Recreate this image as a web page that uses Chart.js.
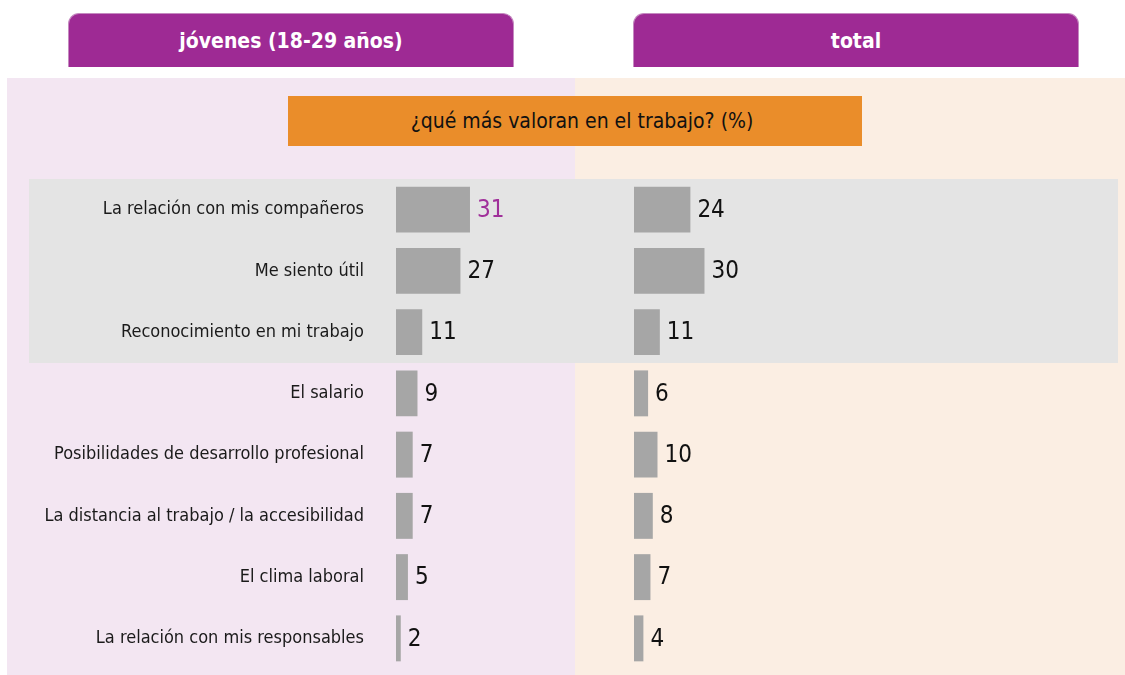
<!DOCTYPE html>
<html>
<head>
<meta charset="utf-8">
<script src="https://cdn.jsdelivr.net/npm/chart.js@4"></script>
<style>
  html, body { margin:0; padding:0; background:#ffffff; width:1125px; height:675px; overflow:hidden; }
  body { position:relative; font-family:"DejaVu Sans Condensed","DejaVu Sans",sans-serif; }
  .abs { position:absolute; }
  .tab { background:#9E2A94; border:1px solid #C58AC0; border-bottom:none; border-radius:11px 11px 0 0;
         color:#ffffff; font-weight:bold; font-size:21px; text-align:center; line-height:54px; box-sizing:border-box; }
  #title { background:#EA8D2A; color:#111; font-size:21px; text-align:center; line-height:50px; box-sizing:border-box; padding-left:14px; }
</style>
</head>
<body>
<div class="abs tab" style="left:68px; top:13px; width:446px; height:54px;">jóvenes (18-29 años)</div>
<div class="abs tab" style="left:633px; top:13px; width:446px; height:54px;">total</div>
<div class="abs" style="left:7px; top:78px; width:568px; height:597px; background:#F3E6F2;"></div>
<div class="abs" style="left:575px; top:78px; width:550px; height:597px; background:#FBEEE3;"></div>
<div class="abs" id="title" style="left:288px; top:96px; width:574px; height:50px;">¿qué más valoran en el trabajo? (%)</div>
<div class="abs" style="left:29px; top:179px; width:1089px; height:184px; background:#E4E4E4;"></div>
<canvas id="left" class="abs" width="575" height="490" style="left:0px; top:179px;"></canvas>
<canvas id="right" class="abs" width="550" height="490" style="left:575px; top:179px;"></canvas>
<script>
const categories = [
  "La relación con mis compañeros",
  "Me siento útil",
  "Reconocimiento en mi trabajo",
  "El salario",
  "Posibilidades de desarrollo profesional",
  "La distancia al trabajo / la accesibilidad",
  "El clima laboral",
  "La relación con mis responsables"
];
const jovenes = [31, 27, 11, 9, 7, 7, 5, 2];
const total   = [24, 30, 11, 6, 10, 8, 7, 4];

const FONT = '"DejaVu Sans Condensed","DejaVu Sans",sans-serif';

const valueLabels = {
  id: 'valueLabels',
  afterDatasetsDraw(chart, args, opts) {
    const ctx = chart.ctx;
    const meta = chart.getDatasetMeta(0);
    const data = chart.data.datasets[0].data;
    ctx.save();
    ctx.font = '24px ' + FONT;
    ctx.textAlign = 'left';
    ctx.textBaseline = 'middle';
    meta.data.forEach((el, i) => {
      ctx.fillStyle = (opts.highlight === i) ? '#A0309A' : '#111111';
      ctx.fillText(String(data[i]), el.x + 7, el.y + 1);
    });
    ctx.restore();
  }
};

function makeChart(id, values, showLabels, xMax, padLeft, highlight) {
  return new Chart(document.getElementById(id), {
    type: 'bar',
    data: {
      labels: categories,
      datasets: [{
        data: values,
        backgroundColor: '#A6A6A6',
        borderWidth: 0,
        categoryPercentage: 1,
        barPercentage: 0.75
      }]
    },
    plugins: [valueLabels],
    options: {
      indexAxis: 'y',
      responsive: false,
      animation: false,
      devicePixelRatio: 1,
      layout: { padding: { left: padLeft, right: 0, top: 0, bottom: 0 } },
      plugins: {
        legend: { display: false },
        tooltip: { enabled: false },
        valueLabels: { highlight: highlight }
      },
      scales: {
        x: { display: false, min: 0, max: xMax },
        y: {
          display: showLabels,
          grid: { display: false, drawTicks: false },
          border: { display: false },
          ticks: { font: { family: FONT, size: 18 }, color: '#1a1a1a', padding: 32, crossAlign: 'near' },
          afterFit: (s) => {
            if (showLabels) { s.width = 396; }
            s.paddingTop = 0; s.paddingBottom = 0;
          }
        }
      }
    }
  });
}

makeChart('left', jovenes, true, 75, 0, 0);
makeChart('right', total, false, 209, 59, -1);
</script>
</body>
</html>
